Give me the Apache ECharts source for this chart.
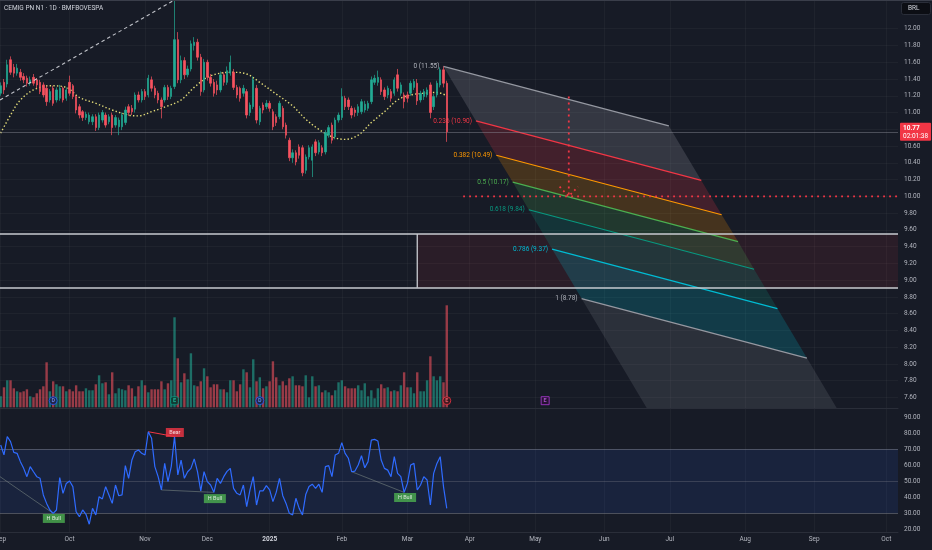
<!DOCTYPE html>
<html><head><meta charset="utf-8">
<script src="https://cdn.jsdelivr.net/npm/echarts@6/dist/echarts.min.js"></script>
<style>html,body{margin:0;padding:0;background:#171b26;}#c{width:932px;height:550px;}</style>
</head><body><div id="c"></div><script>
// ---------- data ----------
const monthTickIdx = [0,21,44,63,82,104,124,143,163,184,204,227,248,270];
const monthTickLabels = ['Sep','Oct','Nov','Dec','2025','Feb','Mar','Apr','May','Jun','Jul','Aug','Sep','Oct'];
const priceTicks = [7.6,7.8,8.0,8.2,8.4,8.6,8.8,9.0,9.2,9.4,9.6,9.8,10.0,10.2,10.4,10.6,10.8,11.0,11.2,11.4,11.6,11.8,12.0];
const rsiTicks = [20,30,40,50,60,70,80,90];

// [open, close, low, high] per trading day
const ohlc = [
[11.23,11.32,11.20,11.36],[11.36,11.27,11.22,11.40],[11.34,11.57,11.30,11.63],[11.63,11.48,11.45,11.67],[11.54,11.47,11.42,11.58],
[11.47,11.53,11.44,11.58],[11.48,11.42,11.38,11.52],[11.43,11.39,11.35,11.47],[11.41,11.35,11.31,11.44],[11.35,11.39,11.32,11.43],
[11.42,11.35,11.32,11.46],[11.39,11.33,11.29,11.41],[11.36,11.25,11.22,11.39],[11.33,11.21,11.18,11.36],[11.29,11.13,11.08,11.32],
[11.15,11.25,11.12,11.28],[11.29,11.11,11.08,11.32],[11.15,11.27,11.12,11.30],[11.17,11.29,11.14,11.33],[11.29,11.15,11.12,11.31],
[11.17,11.27,11.14,11.30],[11.36,11.23,11.20,11.44],[11.32,11.19,11.16,11.34],[11.19,11.03,10.99,11.21],[11.07,10.97,10.93,11.10],
[11.01,10.94,10.90,11.03],[10.94,10.98,10.91,11.01],[10.89,10.97,10.86,11.00],[10.89,10.95,10.85,10.98],[10.95,10.82,10.78,10.98],
[10.82,10.97,10.79,11.00],[10.91,11.00,10.88,11.03],[10.97,10.85,10.82,11.00],[10.89,10.95,10.86,10.98],[10.97,10.82,10.73,11.00],
[10.85,10.94,10.82,10.97],[10.83,10.91,10.73,10.94],[10.83,10.97,10.79,11.00],[10.88,11.03,10.85,11.07],[11.07,11.00,10.96,11.10],
[11.05,11.01,10.97,11.09],[11.04,11.21,11.00,11.24],[11.21,11.15,11.12,11.25],[11.15,11.25,11.12,11.28],[11.25,11.19,11.15,11.28],
[11.21,11.41,11.18,11.45],[11.39,11.29,11.25,11.43],[11.29,11.21,11.17,11.32],[11.23,11.15,11.11,11.26],[11.15,11.07,10.93,11.18],
[11.15,11.30,11.12,11.33],[11.30,11.19,11.15,11.33],[11.19,11.29,11.16,11.32],[11.31,11.87,11.28,12.40],[11.87,11.39,11.35,11.96],
[11.39,11.62,11.35,11.68],[11.62,11.45,11.40,11.66],[11.45,11.52,11.42,11.56],[11.52,11.82,11.49,11.86],[11.80,11.84,11.74,11.90],
[11.84,11.66,11.62,11.88],[11.66,11.25,11.20,11.70],[11.27,11.60,11.24,11.64],[11.60,11.42,11.38,11.63],[11.42,11.35,11.31,11.46],
[11.36,11.23,11.19,11.40],[11.33,11.27,11.21,11.38],[11.27,11.45,11.24,11.49],[11.45,11.36,11.32,11.48],[11.36,11.50,11.33,11.55],
[11.47,11.60,11.44,11.68],[11.48,11.30,11.27,11.52],[11.30,11.21,11.17,11.33],[11.29,11.17,11.13,11.31],[11.23,11.29,11.19,11.33],
[11.25,10.97,10.93,11.28],[11.00,11.09,10.96,11.12],[11.07,11.39,11.04,11.43],[11.29,10.91,10.87,11.33],[10.89,11.05,10.85,11.08],
[11.09,11.03,10.99,11.12],[11.07,11.11,11.04,11.15],[11.11,11.05,11.01,11.14],[11.01,10.83,10.79,11.04],[10.95,10.88,10.84,10.98],
[10.95,11.11,10.92,11.14],[11.05,10.83,10.80,11.08],[10.85,10.73,10.69,10.88],[10.67,10.46,10.42,10.70],[10.46,10.52,10.40,10.56],
[10.52,10.41,10.37,10.55],[10.59,10.49,10.45,10.62],[10.58,10.28,10.24,10.61],[10.31,10.47,10.27,10.50],[10.47,10.58,10.44,10.61],
[10.43,10.59,10.23,10.62],[10.65,10.52,10.48,10.68],[10.53,10.64,10.50,10.67],[10.58,10.52,10.48,10.61],[10.53,10.76,10.50,10.79],
[10.73,10.82,10.70,10.85],[10.85,10.67,10.63,10.88],[10.71,10.91,10.68,10.94],[10.91,10.97,10.88,11.00],[10.94,11.19,10.91,11.29],
[11.17,11.07,11.03,11.20],[11.15,11.07,11.03,11.18],[11.05,10.97,10.93,11.08],[11.03,11.00,10.95,11.06],[11.00,11.07,10.96,11.10],
[11.01,11.13,10.98,11.16],[11.03,11.10,11.00,11.14],[11.05,11.11,11.02,11.14],[11.13,11.39,11.10,11.43],[11.36,11.41,11.33,11.45],
[11.36,11.42,11.32,11.50],[11.39,11.25,11.21,11.42],[11.27,11.19,11.15,11.30],[11.21,11.29,11.17,11.32],[11.25,11.17,11.13,11.28],
[11.23,11.39,11.20,11.42],[11.45,11.29,11.25,11.52],[11.23,11.33,11.20,11.36],[11.21,11.13,11.05,11.24],[11.21,11.17,11.12,11.25],
[11.23,11.35,11.20,11.38],[11.30,11.37,11.27,11.40],[11.35,11.14,11.09,11.40],[11.15,11.23,11.12,11.26],[11.19,11.25,11.15,11.28],
[11.21,11.27,11.18,11.30],[11.33,11.00,10.93,11.36],[11.07,11.19,11.03,11.22],[11.21,11.35,11.18,11.38],[11.33,11.51,11.30,11.54],
[11.51,11.35,11.30,11.55],[11.35,10.77,10.65,11.38]
];
// volume, millions
const volumes = [
5.5,10,13.5,13.5,9.5,8,7.5,8,9,5.5, 5,7,9,10.5,22.5,8,13,11.5,10.5,10.5,
8,9,8,11,8,8,9.5,8.5,8.5,11.5, 16,12,12.5,6.5,17.5,7,9.5,9,8.5,11,
9.5,5.5,10.5,13.5,11,7.5,9,9,9,13, 9,12,13.5,45,24.5,12.5,17,14,27,11,
10.5,13,19.5,15.5,10,11.5,11.5,9,9,7.5, 13.5,13.5,8,11.5,19,17.5,10,24,13,15,
9.5,10.5,13,23,15,11,13,11,14.5,15.5, 11,11,10.5,16,5,15.5,10.5,11,7.5,8.5,
7.5,6,8.5,12.5,13.5,10.5,9.5,9.5,9.5,11, 8.5,12,5.5,8.5,4.5,9.5,11.5,9.5,10,8,
8.5,8,11,17.5,10,10,7,17.5,8,8, 13.5,25.5,15.5,13.5,15.5,12.5,51
];
const rsi = [
72.5,66.3,77.8,74.6,67.9,67.3,62.1,57.9,52.7,59, 55.8,52.7,51.7,41.3,36,31.9,29.8,31.9,52.1,42.3,
48.5,50,46.5,30.8,27.7,31.9,29.2,23,32.9,28.8, 40.2,38.8,46.5,41.3,36,47.5,40.8,41.3,59.6,51.7,
63.1,68.3,69.4,67.3,66.3,80.8,76.7,59,52.7,44.4, 61,49.6,59,77.8,53.8,63.1,51.7,55.8,57.9,63.8,
55.8,43.8,55.8,49.6,47.5,42.9,51.7,48.5,52.7,56, 57.9,45.4,42.3,41.3,47.5,34,44.4,52.7,35,43.8,
43.8,47.1,44.4,37.1,42.9,51.7,40.8,36,29.8,28.8, 39.2,32.9,28.8,41.5,46.5,48,45.4,48,42.9,59,
59.6,52.7,66.3,67.3,74,67.3,64.2,55.8,56.2,60, 65.8,58.3,62.1,75.6,76,75,63.1,57.9,56.8,52.7,
65.2,54.8,52.7,42.9,48.5,60,61,44.4,47.5,52.7, 50.6,35,54.8,61,65.2,46.5,32.9
];
// moving average (dotted yellow), sampled [barIndex, value]
const maPoints = [[0,10.755],[3,10.97],[6,11.15],[10,11.27],[15,11.32],[20,11.30],[24,11.18],[29,11.11],[34,11.03],[39,10.97],[42,10.96],[46,11.01],[51,11.08],[55,11.15],[59,11.30],[63,11.42],[67,11.47],[71,11.48],[75,11.46],[79,11.36],[84,11.22],[89,11.08],[93,10.92],[97,10.80],[101,10.71],[105,10.68],[109,10.73],[113,10.88],[117,11.01],[121,11.15],[125,11.21],[129,11.23],[133,11.24],[136,11.20]];

// fib channel drawing
const fibRatios = ['0','0.236','0.382','0.5','0.618','0.786','1','1.618'];
const fibStartIdx = [135,144.9,151.1,156.1,161.0,168.1,177.1,203.1];
const fibStartPrice = [11.55,10.90,10.49,10.17,9.84,9.37,8.78,7.07];
const fibEndIdx = [203.7,213.6,219.8,224.8,229.7,236.8,245.8,271.8];
const fibEndPrice = [10.84,10.19,9.78,9.46,9.13,8.66,8.07,6.36];
const fibLineColors = ['#9598a1','#f23645','#ff9800','#4caf50','#089981','#00bcd4','#9598a1','#2962ff'];
const fibTextColors = ['#b2b5be','#f23645','#ff9800','#4caf50','#089981','#00bcd4','#b2b5be','#2962ff'];
const fibFillColors = ['rgba(120,123,134,0.30)','rgba(242,54,69,0.20)','rgba(255,152,0,0.20)','rgba(76,175,80,0.20)','rgba(8,153,129,0.20)','rgba(0,188,212,0.20)','rgba(120,123,134,0.22)'];

// other drawings
const trendLine = [[-0.2,11.15],[60,12.50]];
const zoneLeftIdx = 127, zoneTop = 9.55, zoneBottom = 8.91;
const targetHLine = [[141,10.00],[273.6,10.00]];
const targetVLine = [[173.2,11.19],[173.2,10.00]];
const targetArrow = [[170.4,10.115],[173.2,10.00],[176.0,10.115]];
const lastPrice = 10.77, countdown = '02:01:38';

// volume pane events
const eventMarks = [
 {idx:16, text:'D', kind:'div'},
 {idx:53, text:'E', kind:'earnUp'},
 {idx:79, text:'D', kind:'div'},
 {idx:136, text:'E', kind:'earnDn'},
 {idx:166, text:'E', kind:'future'}
];
// RSI divergence
const divLines = [
 {pts:[[-0.2,52.7],[16,29.8]], bear:false},
 {pts:[[49,44.4],[65,42.9]], bear:false},
 {pts:[[107,55.8],[123,42.9]], bear:false},
 {pts:[[45,80.8],[53,77.8]], bear:true}
];
const divLabels = [
 {idx:16.2, v:26.6, text:'H Bull', bear:false},
 {idx:65.3, v:39.0, text:'H Bull', bear:false},
 {idx:123.3, v:39.7, text:'H Bull', bear:false},
 {idx:53.1, v:80.3, text:'Bear', bear:true}
];

// ---------- chart ----------
const XMIN = -0.21, XMAX = 273.57;
const UP = '#22ab94', DN = '#f7525f';
const VUP = 'rgba(34,171,148,0.58)', VDN = 'rgba(247,82,95,0.58)';
const FONT = 'Roboto, "Noto Sans", sans-serif';
const TXT = '#b2b5be';
const GRIDLINE = 'rgba(255,255,255,0.035)';

const chart = echarts.init(document.getElementById('c'));

const candleData = ohlc.map((d,i)=>[i,d[0],d[1],d[2],d[3]]);
const volData = volumes.map((v,i)=>({value:[i,v], itemStyle:{color: ohlc[i][1] >= ohlc[i][0] ? VUP : VDN}}));
const rsiData = rsi.map((v,i)=>[i,v]);

const evStyle = {
 div:{symbol:'circle', fill:'#16204a', stroke:'#2962ff', txt:'#6f96ff'},
 earnUp:{symbol:'roundRect', fill:'#0c3a31', stroke:'#089981', txt:'#26c6a8'},
 earnDn:{symbol:'circle', fill:'#40161d', stroke:'#f23645', txt:'#ff6b76'},
 future:{symbol:'rect', fill:'#2a1236', stroke:'#b03ad9', txt:'#c860ee'}
};

function xAxisBase(grid, showLabel){
  return {
    type:'value', gridIndex:grid, min:XMIN, max:XMAX,
    axisLine:{show: grid!==1, lineStyle:{color:'#2a2e39'}},
    axisTick:{show:false, customValues: monthTickIdx},
    splitLine:{show: grid!==1, lineStyle:{color:GRIDLINE}},
    axisLabel:{show:showLabel, customValues: monthTickIdx, color:TXT, fontSize:6.5, fontFamily:FONT, margin:4,
      align:'center', hideOverlap:false,
      formatter: v => { const k = monthTickIdx.indexOf(Math.round(v)); if(k<0) return ''; const s = monthTickLabels[k]; return s==='2025' ? '{y|2025}' : s; },
      rich:{y:{fontWeight:'bold', color:'#d1d4dc', fontSize:6.5, fontFamily:FONT, align:'center'}}}
  };
}

const gridBase = {left:0, right:34, containLabel:false, outerBoundsMode:'none'};
const option = {
  animation:false,
  backgroundColor:'#171b26',
  grid:[
    Object.assign({top:0, height:408}, gridBase),
    Object.assign({top:300, height:107.3}, gridBase),
    Object.assign({top:409, height:123}, gridBase)
  ],
  xAxis:[xAxisBase(0,false), xAxisBase(1,false), xAxisBase(2,true)],
  yAxis:[
    {type:'value', gridIndex:0, position:'right', min:7.474, max:12.343,
     axisLine:{show:false}, axisTick:{show:false, customValues:priceTicks},
     splitLine:{show:true, lineStyle:{color:GRIDLINE}},
     axisLabel:{customValues:priceTicks, formatter:v=>v.toFixed(2), color:TXT, fontSize:6.5, fontFamily:FONT, margin:6}},
    {type:'value', gridIndex:1, min:0, max:53.65, show:false},
    {type:'value', gridIndex:2, position:'right', min:18.125, max:95,
     axisLine:{show:false}, axisTick:{show:false, customValues:rsiTicks},
     splitLine:{show:false},
     axisLabel:{customValues:rsiTicks, formatter:v=>v.toFixed(2), color:TXT, fontSize:6.5, fontFamily:FONT, margin:6}}
  ],
  graphic:[
    {type:'rect', left:0, top:0, shape:{width:932, height:1}, style:{fill:'#3a3e4a'}, z:100},
    {type:'text', left:4, top:5, style:{text:'CEMIG PN N1 · 1D · BMFBOVESPA', fill:'#d1d4dc', font:'6.5px '+FONT}, z:100},
    {type:'rect', left:901, top:2, shape:{width:29, height:12, r:2}, style:{fill:'#0c0e14', stroke:'#2a2e39', lineWidth:1}, z:100},
    {type:'text', left:908, top:5, style:{text:'BRL', fill:'#d1d4dc', font:'6.5px '+FONT}, z:101}
  ],
  series:[
    // red zone fill
    {type:'line', xAxisIndex:0, yAxisIndex:0, data:[], symbol:'none', z:1,
     markArea:{silent:true, itemStyle:{color:'rgba(242,54,69,0.09)'},
       data:[[{coord:[zoneLeftIdx, zoneTop]},{coord:[XMAX, zoneBottom]}]]}},
    // fib bands
    {type:'custom', xAxisIndex:0, yAxisIndex:0, clip:true, z:2, silent:true,
     data: fibFillColors.map((c,i)=>[i]),
     encode:{x:0},
     renderItem:(params, api)=>{
       const i = api.value(0);
       const pts = [
         api.coord([fibStartIdx[i], fibStartPrice[i]]),
         api.coord([fibEndIdx[i], fibEndPrice[i]]),
         api.coord([fibEndIdx[i+1], fibEndPrice[i+1]]),
         api.coord([fibStartIdx[i+1], fibStartPrice[i+1]])
       ];
       return {type:'polygon', shape:{points:pts}, style:{fill:fibFillColors[i]}};
     }},
    // fib level lines + labels
    {type:'custom', xAxisIndex:0, yAxisIndex:0, clip:true, z:3, silent:true,
     data: fibRatios.slice(0,7).map((r,i)=>[i]),
     encode:{x:0},
     renderItem:(params, api)=>{
       const i = api.value(0);
       const s = api.coord([fibStartIdx[i], fibStartPrice[i]]);
       const e = api.coord([fibEndIdx[i], fibEndPrice[i]]);
       return {type:'group', children:[
         {type:'line', shape:{x1:s[0],y1:s[1],x2:e[0],y2:e[1]}, style:{stroke:fibLineColors[i], lineWidth:1.2}},
         {type:'text', x:s[0]-4, y:s[1], style:{text: fibRatios[i]+' ('+fibStartPrice[i].toFixed(2)+')', fill:fibTextColors[i], align:'right', verticalAlign:'middle', font:'6.5px '+FONT}}
       ]};
     }},
    // volume
    {type:'bar', xAxisIndex:1, yAxisIndex:1, data:volData, barWidth:2.4, z:2, silent:true},
    // event markers
    {type:'scatter', xAxisIndex:1, yAxisIndex:1, z:6, silent:true,
     data: eventMarks.map(m=>({value:[m.idx, 3.3], symbol:evStyle[m.kind].symbol,
        itemStyle:{color:evStyle[m.kind].fill, borderColor:evStyle[m.kind].stroke, borderWidth:1},
        label:{show:true, position:'inside', formatter:m.text, color:evStyle[m.kind].txt, fontSize:5.5, fontFamily:FONT, fontWeight:'bold'}})),
     symbolSize:8},
    // MA
    {type:'line', xAxisIndex:0, yAxisIndex:0, data:maPoints, smooth:0.35, symbol:'none', z:4,
     lineStyle:{color:'#e3dc78', width:1.4, type:[1.4,2.2]}},
    // candles
    {type:'candlestick', xAxisIndex:0, yAxisIndex:0, data:candleData, encode:{x:0, y:[1,2,3,4]},
     barWidth:1.9, z:5,
     itemStyle:{color:UP, color0:DN, borderColor:UP, borderColor0:DN, borderWidth:0.7}},
    // horizontal lines + zone edge
    {type:'line', xAxisIndex:0, yAxisIndex:0, data:[[zoneLeftIdx,zoneTop],[zoneLeftIdx,zoneBottom]], symbol:'none', z:6,
     lineStyle:{color:'#c9cbd1', width:1.3},
     markLine:{silent:true, symbol:'none', label:{show:false}, lineStyle:{color:'#c9cbd1', width:1.5, type:'solid'},
       data:[{yAxis:zoneTop},{yAxis:zoneBottom}]}},
    // dashed trend line
    {type:'line', xAxisIndex:0, yAxisIndex:0, data:trendLine, symbol:'none', z:6,
     lineStyle:{color:'rgba(220,222,228,0.85)', width:1.1, type:[3.5,3]}},
    // target dotted lines
    {type:'line', xAxisIndex:0, yAxisIndex:0, data:targetHLine, symbol:'none', z:7,
     lineStyle:{color:'#f23645', width:1.8, type:[1.8,4.2]}},
    {type:'line', xAxisIndex:0, yAxisIndex:0, data:targetVLine, symbol:'none', z:7,
     lineStyle:{color:'#f23645', width:1.8, type:[1.8,4.2]}},
    {type:'line', xAxisIndex:0, yAxisIndex:0, data:targetArrow, symbol:'none', z:7,
     lineStyle:{color:'#f23645', width:1.8, type:[1.8,3.5]}},
    // price line + last price label
    {type:'line', xAxisIndex:0, yAxisIndex:0, data:[], symbol:'none', clip:false, z:20,
     markLine:{silent:true, symbol:'none', lineStyle:{color:'rgba(140,143,153,0.45)', width:1, type:'solid'},
       label:{show:true, position:'end', distance:2, backgroundColor:'#f23645', borderRadius:1, padding:[2,3,1,3],
         formatter:'{p|'+lastPrice.toFixed(2)+'}\n{t|'+countdown+'}',
         rich:{p:{color:'#fff', fontSize:6.5, fontWeight:'bold', fontFamily:FONT, lineHeight:7.5},
               t:{color:'#fff', fontSize:6.5, fontFamily:FONT, lineHeight:7.5}}},
       data:[{yAxis:lastPrice}]}},
    // RSI
    {type:'line', xAxisIndex:2, yAxisIndex:2, data:rsiData, symbol:'none', z:5,
     lineStyle:{color:'#2f6bff', width:1.2},
     markArea:{silent:true, itemStyle:{color:'rgba(41,98,255,0.11)'}, data:[[{yAxis:30},{yAxis:70}]]},
     markLine:{silent:true, symbol:'none', label:{show:false},
       lineStyle:{color:'rgba(120,123,134,0.55)', width:1, type:'solid'},
       data:[{yAxis:70},{yAxis:50, lineStyle:{color:'rgba(120,123,134,0.35)'}},{yAxis:30}]}},
    ...divLines.map(d=>({type:'line', xAxisIndex:2, yAxisIndex:2, data:d.pts, symbol:'none', z:4,
       lineStyle:{color: d.bear ? '#f23645' : 'rgba(150,165,150,0.45)', width:1}})),
    {type:'scatter', xAxisIndex:2, yAxisIndex:2, z:8, silent:true,
     data: divLabels.map(l=>({value:[l.idx,l.v], symbol:'rect', symbolSize: l.bear ? [18,9] : [22,9],
       itemStyle:{color: l.bear ? '#f23645' : '#4caf50'},
       label:{show:true, position:'inside', formatter:l.text, color:'#fff', fontSize:5.5, fontFamily:FONT}}))}
  ]
};
chart.setOption(option);
</script></body></html>
